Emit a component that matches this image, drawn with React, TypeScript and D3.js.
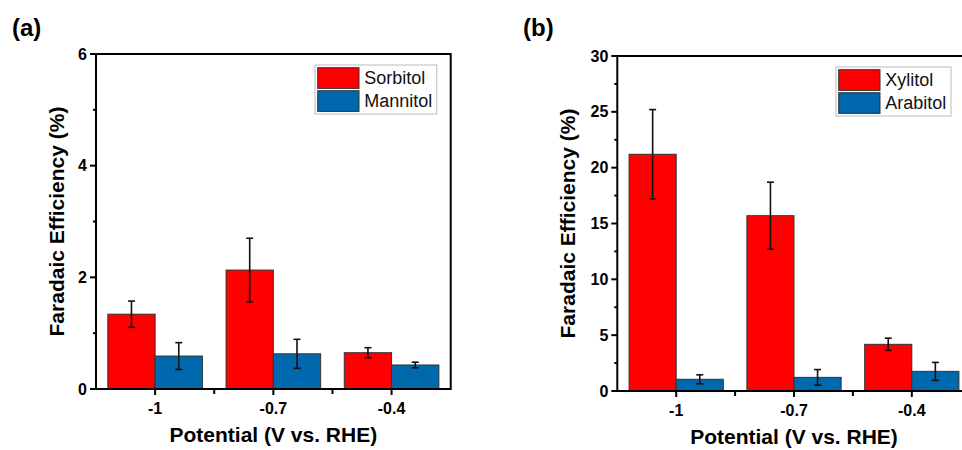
import { useRef, useEffect } from "react";
import * as d3 from "d3";

const potentials = ["-1", "-0.7", "-0.4"];

const sorbitol = [1.34, 2.13, 0.65];
const sorbitolErr = [0.235, 0.57, 0.09];
const mannitol = [0.59, 0.63, 0.43];
const mannitolErr = [0.24, 0.26, 0.05];

const xylitol = [21.2, 15.7, 4.18];
const xylitolErr = [4.0, 3.0, 0.55];
const arabitol = [1.05, 1.22, 1.76];
const arabitolErr = [0.4, 0.7, 0.8];

const ticksA = [0, 2, 4, 6];
const minorA = [1, 3, 5];
const ticksB = [0, 5, 10, 15, 20, 25, 30];
const minorB = [2.5, 7.5, 12.5, 17.5, 22.5, 27.5];

const RED = "#ff0000";
const BLUE = "#0068ad";
const FONT = "'Liberation Sans', Arial, sans-serif";

function drawPanel(svg, p) {
  const g = svg.append("g");

  const x = d3
    .scaleBand()
    .domain(potentials)
    .range([p.left, p.right])
    .paddingInner(0.2)
    .paddingOuter(0.1);
  const sub = d3.scaleBand().domain(["0", "1"]).range([0, x.bandwidth()]);
  const y = d3.scaleLinear().domain([0, p.yMax]).range([p.bottom, p.top]);
  const step = x.step();

  // bars
  p.series.forEach((s, si) => {
    g.append("g")
      .selectAll("rect")
      .data(s.values)
      .join("rect")
      .attr("x", (d, i) => x(potentials[i]) + sub(String(si)))
      .attr("y", (d) => y(d))
      .attr("width", sub.bandwidth())
      .attr("height", (d) => y(0) - y(d))
      .attr("fill", s.color)
      .attr("stroke", "#333")
      .attr("stroke-width", 1);
  });

  // error bars
  p.series.forEach((s, si) => {
    const eg = g
      .append("g")
      .attr("stroke", "#111")
      .attr("stroke-width", 1.6)
      .selectAll("g")
      .data(s.values)
      .join("g")
      .attr(
        "transform",
        (d, i) =>
          `translate(${x(potentials[i]) + sub(String(si)) + sub.bandwidth() / 2},0)`
      );
    eg.append("line")
      .attr("y1", (d, i) => y(d + s.err[i]))
      .attr("y2", (d, i) => y(d - s.err[i]));
    eg.append("line")
      .attr("x1", -3.5)
      .attr("x2", 3.5)
      .attr("y1", (d, i) => y(d + s.err[i]))
      .attr("y2", (d, i) => y(d + s.err[i]));
    eg.append("line")
      .attr("x1", -3.5)
      .attr("x2", 3.5)
      .attr("y1", (d, i) => y(d - s.err[i]))
      .attr("y2", (d, i) => y(d - s.err[i]));
  });

  // frame
  g.append("rect")
    .attr("x", p.left)
    .attr("y", p.top)
    .attr("width", p.right - p.left)
    .attr("height", p.bottom - p.top)
    .attr("fill", "none")
    .attr("stroke", "#000")
    .attr("stroke-width", 2);

  // y ticks
  g.append("g")
    .selectAll("line")
    .data(p.ticks)
    .join("line")
    .attr("x1", p.left - 6)
    .attr("x2", p.left)
    .attr("y1", (d) => y(d))
    .attr("y2", (d) => y(d))
    .attr("stroke", "#000")
    .attr("stroke-width", 2);
  g.append("g")
    .selectAll("line")
    .data(p.minor)
    .join("line")
    .attr("x1", p.left - 3)
    .attr("x2", p.left)
    .attr("y1", (d) => y(d))
    .attr("y2", (d) => y(d))
    .attr("stroke", "#000")
    .attr("stroke-width", 2);
  g.append("g")
    .selectAll("text")
    .data(p.ticks)
    .join("text")
    .attr("x", p.left - 9)
    .attr("y", (d) => y(d))
    .attr("dy", "0.35em")
    .attr("text-anchor", "end")
    .style("font", `bold 16px ${FONT}`)
    .text((d) => d);

  // x ticks
  g.append("g")
    .selectAll("line")
    .data(potentials)
    .join("line")
    .attr("x1", (d) => x(d) + x.bandwidth() / 2)
    .attr("x2", (d) => x(d) + x.bandwidth() / 2)
    .attr("y1", p.bottom)
    .attr("y2", p.bottom + 6)
    .attr("stroke", "#000")
    .attr("stroke-width", 2);
  g.append("g")
    .selectAll("line")
    .data([1, 2])
    .join("line")
    .attr("x1", (d) => p.left + d * step)
    .attr("x2", (d) => p.left + d * step)
    .attr("y1", p.bottom)
    .attr("y2", p.bottom + 5)
    .attr("stroke", "#000")
    .attr("stroke-width", 2);
  g.append("g")
    .selectAll("text")
    .data(potentials)
    .join("text")
    .attr("x", (d) => x(d) + x.bandwidth() / 2)
    .attr("y", p.bottom + 25)
    .attr("text-anchor", "middle")
    .style("font", `bold 16px ${FONT}`)
    .text((d) => d);

  // axis titles
  g.append("text")
    .attr("x", (p.left + p.right) / 2)
    .attr("y", p.bottom + 53)
    .attr("text-anchor", "middle")
    .style("font", `bold 21px ${FONT}`)
    .text("Potential (V vs. RHE)");
  g.append("text")
    .attr(
      "transform",
      `translate(${p.yTitleX},${(p.top + p.bottom) / 2}) rotate(-90)`
    )
    .attr("text-anchor", "middle")
    .style("font", `bold 21px ${FONT}`)
    .text("Faradaic Efficiency (%)");

  // panel label
  g.append("text")
    .attr("x", p.labelX)
    .attr("y", 36)
    .style("font", `bold 24px ${FONT}`)
    .text(p.label);

  // legend
  const lg = g.append("g").attr("transform", `translate(${p.legendX},${p.top + 11})`);
  lg.append("rect")
    .attr("width", p.legendW)
    .attr("height", 49)
    .attr("fill", "#fff")
    .attr("stroke", "#bbb")
    .attr("stroke-width", 1);
  const row = lg
    .selectAll("g")
    .data(p.series)
    .join("g")
    .attr("transform", (d, i) => `translate(2.7,${2.7 + i * 23})`);
  row.append("rect")
    .attr("width", 41.3)
    .attr("height", 20.7)
    .attr("fill", (d) => d.color)
    .attr("stroke", "#333")
    .attr("stroke-width", 1);
  row.append("text")
    .attr("x", 46.5)
    .attr("y", 16.5)
    .style("font", `18px ${FONT}`)
    .attr("fill", "#111")
    .text((d) => d.name);
}

export default function App() {
  const svgRef = useRef(null);

  useEffect(() => {
    const svg = d3.select(svgRef.current);
    svg.selectAll("*").remove();

    drawPanel(svg, {
      label: "(a)",
      labelX: 12,
      left: 96,
      right: 450.7,
      top: 54,
      bottom: 389,
      yMax: 6,
      ticks: ticksA,
      minor: minorA,
      yTitleX: 64,
      legendX: 315,
      legendW: 121.7,
      series: [
        { name: "Sorbitol", values: sorbitol, err: sorbitolErr, color: RED },
        { name: "Mannitol", values: mannitol, err: mannitolErr, color: BLUE },
      ],
    });

    drawPanel(svg, {
      label: "(b)",
      labelX: 523,
      left: 617.3,
      right: 970.7,
      top: 56,
      bottom: 391,
      yMax: 30,
      ticks: ticksB,
      minor: minorB,
      yTitleX: 575,
      legendX: 836,
      legendW: 115,
      series: [
        { name: "Xylitol", values: xylitol, err: xylitolErr, color: RED },
        { name: "Arabitol", values: arabitol, err: arabitolErr, color: BLUE },
      ],
    });
  }, []);

  return (
    <svg
      ref={svgRef}
      width={962}
      height={450}
      style={{ position: "absolute", left: 0, top: 0, background: "#fff" }}
    ></svg>
  );
}
